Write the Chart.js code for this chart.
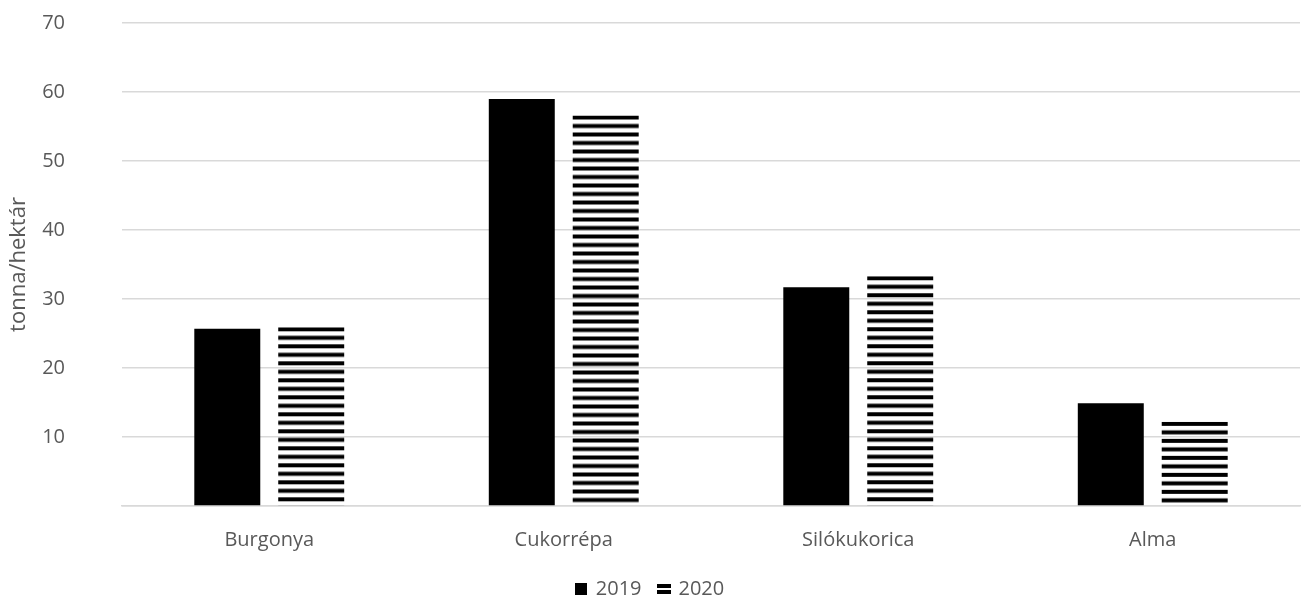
<!DOCTYPE html>
<html>
<head>
<meta charset="utf-8">
<script src="https://cdn.jsdelivr.net/npm/chart.js@4/dist/chart.umd.min.js"></script>
<style>
	body { margin: 0; background: #fff; }
	#wrap { width: 1303px; height: 601px; }
</style>
</head>
<body>
<div id="wrap"><canvas id="yieldChart"></canvas></div>
<script>
// values (tonna/hektár)
const crops = ['Burgonya', 'Cukorrépa', 'Silókukorica', 'Alma'];
const yield2019 = [25.7, 59.0, 31.7, 14.9];
const yield2020 = [25.9, 56.6, 33.3, 12.2];
const seriesNames = ['2019', '2020'];
const yTicks = [0, 10, 20, 30, 40, 50, 60, 70];

const textColor = '#595959';
const gridColor = '#d9d9d9';
const fontFamily = '"Open Sans", "Liberation Sans", sans-serif';

// tile for the horizontal stripe fill
function stripeTile() {
	let c = document.createElement('canvas');
	c.width = 4;
	c.height = 17;
	let g = c.getContext('2d');
	g.fillStyle = '#000';
	g.fillRect(0, 0, 4, 4);
	g.fillRect(0, 8.5, 4, 4);
	return c;
}
const tile = stripeTile();

// start the stripes at the top of each bar
function stripeFill(ctx) {
	let chart = ctx.chart;
	if (!chart.scales || !chart.scales.y) return '#000';
	let top = chart.scales.y.getPixelForValue(ctx.raw);
	let p = chart.ctx.createPattern(tile, 'repeat');
	p.setTransform(new DOMMatrix().translate(0, top));
	return p;
}

// legend markers
function squareMarker() {
	let c = document.createElement('canvas');
	c.width = 12; c.height = 12;
	let g = c.getContext('2d');
	g.fillStyle = '#000';
	g.fillRect(0, 0, 12, 12);
	return c;
}
function stripeMarker() {
	let c = document.createElement('canvas');
	c.width = 14; c.height = 12;
	let g = c.getContext('2d');
	g.fillStyle = '#000';
	g.fillRect(0, 1, 14, 4);
	g.fillRect(0, 7, 14, 4);
	return c;
}
const markers = [squareMarker(), stripeMarker()];

// keep the legend box short, the label padding is only wanted between items
const legendHeight = {
	id: 'legendHeight',
	beforeLayout(chart) {
		let lg = chart.legend;
		if (!lg || lg._patched) return;
		let fit = lg.fit;
		lg.fit = function() {
			fit.call(this);
			this.height = 39;
		};
		lg._patched = true;
	}
};

new Chart(document.getElementById('yieldChart'), {
	type: 'bar',
	data: {
		labels: crops,
		datasets: [
			{ label: seriesNames[0], data: yield2019, backgroundColor: '#000', borderWidth: 0 },
			{ label: seriesNames[1], data: yield2020, backgroundColor: stripeFill, borderWidth: 0 }
		]
	},
	plugins: [legendHeight],
	options: {
		responsive: true,
		maintainAspectRatio: false,
		animation: false,
		categoryPercentage: 0.57,
		barPercentage: 0.786,
		layout: { padding: { top: 23, right: 3, bottom: 0, left: 0 } },
		plugins: {
			tooltip: { enabled: false },
			legend: {
				position: 'bottom',
				labels: {
					usePointStyle: true,
					pointStyleWidth: 10,
					padding: 17,
					color: textColor,
					font: { family: fontFamily, size: 20 },
					generateLabels: chart => seriesNames.map((name, i) => ({
						text: name,
						pointStyle: markers[i],
						fillStyle: '#000',
						strokeStyle: 'transparent',
						lineWidth: 0,
						fontColor: textColor,
						datasetIndex: i
					}))
				}
			}
		},
		scales: {
			x: {
				grid: { display: false },
				border: { display: true, color: gridColor, width: 1.5 },
				ticks: { color: textColor, font: { family: fontFamily, size: 20 }, padding: 14 },
				afterFit: scale => { scale.height = 56; }
			},
			y: {
				min: yTicks[0],
				max: yTicks[yTicks.length - 1],
				afterBuildTicks: scale => { scale.ticks = yTicks.map(v => ({ value: v })); },
				grid: { color: gridColor, lineWidth: 1.5, drawTicks: false },
				border: { display: false },
				ticks: {
					color: textColor,
					font: { family: fontFamily, size: 20 },
					padding: 57,
					callback: v => v === 0 ? '' : v
				},
				title: {
					display: true,
					text: 'tonna/hektár',
					color: textColor,
					font: { family: fontFamily, size: 22 },
					padding: { top: 6, bottom: 0 }
				},
				// the big tick padding would otherwise also push the plot down
				afterFit: scale => {
					scale.width = 122;
					scale.paddingTop = 0;
					scale.paddingBottom = 0;
				}
			}
		}
	}
});
</script>
</body>
</html>
